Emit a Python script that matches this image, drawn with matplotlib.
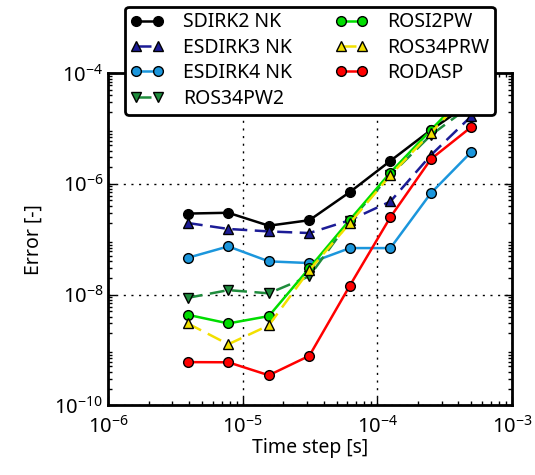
import matplotlib
matplotlib.use("Agg")
import matplotlib.pyplot as plt
from matplotlib.ticker import LogLocator, NullFormatter

plt.rcParams['font.family'] = ['Noto Sans', 'DejaVu Sans']
plt.rcParams['mathtext.fontset'] = 'cm'

# time steps [s]
dt = [3.90625e-6, 7.8125e-6, 1.5625e-5, 3.125e-5, 6.25e-5, 1.25e-4, 2.5e-4, 5e-4]

# errors per method
sdirk2 = [2.9e-7, 3.0e-7, 1.75e-7, 2.2e-7, 7.1e-7, 2.6e-6, 9.4e-6, 3.0e-5]
esdirk3 = [1.96e-7, 1.53e-7, 1.38e-7, 1.29e-7, 2.2e-7, 4.8e-7, 3.3e-6, 1.68e-5]
esdirk4 = [4.6e-8, 7.4e-8, 3.97e-8, 3.7e-8, 6.9e-8, 6.9e-8, 6.8e-7, 3.8e-6]
ros34pw2 = [8.7e-9, 1.2e-8, 1.05e-8, 2.14e-8, 2.15e-7, 1.44e-6, 7.6e-6, 2.65e-5]
rosi2pw = [4.3e-9, 3.0e-9, 4.07e-9, 3.0e-8, 2.24e-7, 1.6e-6, 9.4e-6, 5.4e-5]
ros34prw = [3.0e-9, 1.26e-9, 2.77e-9, 2.75e-8, 1.95e-7, 1.44e-6, 8.4e-6, 5.0e-5]
rodasp = [6.0e-10, 5.96e-10, 3.47e-10, 7.8e-10, 1.45e-8, 2.5e-7, 2.8e-6, 1.07e-5]

fig = plt.figure(figsize=(5.35, 4.75), dpi=100)
ax = fig.add_axes([0.202, 0.147, 0.755, 0.699])

lw = 1.8
ms = 7
ax.plot(dt, sdirk2, '-o', color='black', lw=lw, ms=ms, mec='black', label='SDIRK2 NK')
ax.plot(dt, esdirk3, '--^', color='#1c1c96', lw=lw, ms=ms, mec='black', dashes=(6, 3), label='ESDIRK3 NK')
ax.plot(dt, esdirk4, '-o', color='#1b96dc', lw=lw, ms=ms, mec='black', label='ESDIRK4 NK')
ax.plot(dt, ros34pw2, '--v', color='#1e8c3c', lw=lw, ms=ms, mec='black', dashes=(6, 3), label='ROS34PW2')
ax.plot(dt, rosi2pw, '-o', color='#00dd00', lw=lw, ms=ms, mec='black', label='ROSI2PW')
ax.plot(dt, ros34prw, '--^', color='#f2e000', lw=lw, ms=ms, mec='black', dashes=(6, 3), label='ROS34PRW')
ax.plot(dt, rodasp, '-o', color='#ff0000', lw=lw, ms=ms, mec='black', label='RODASP')

ax.set_xscale('log')
ax.set_yscale('log')
ax.set_xlim(1e-6, 1e-3)
ax.set_ylim(1e-10, 1e-4)
ax.set_yticks([1e-10, 1e-8, 1e-6, 1e-4])
ax.set_xticks([1e-6, 1e-5, 1e-4, 1e-3])
ax.xaxis.set_minor_locator(LogLocator(base=10, subs=range(2, 10), numticks=20))
ax.yaxis.set_minor_locator(LogLocator(base=10, subs=range(2, 10), numticks=20))
ax.xaxis.set_minor_formatter(NullFormatter())
ax.yaxis.set_minor_formatter(NullFormatter())

ax.tick_params(which='both', direction='in', top=True, right=True, labelsize=14.5)
ax.tick_params(which='major', length=6, width=1)
ax.tick_params(which='minor', length=3, width=1)
ax.tick_params(axis='x', pad=8)
for s in ax.spines.values():
    s.set_linewidth(2)

ax.grid(True, which='major', color='black', linestyle=(0, (1.5, 4)), linewidth=1)

ax.set_xlabel('Time step [s]', fontsize=14, labelpad=0)
ax.set_ylabel('Error [-]', fontsize=14, labelpad=8)

leg = ax.legend(loc='upper center', bbox_to_anchor=(0.5, 1.23), ncol=2, numpoints=2,
                fontsize=14, handlelength=1.7, handletextpad=1.0, columnspacing=2.2,
                labelspacing=0.28, borderpad=0.3, fancybox=True, framealpha=1)
leg.get_frame().set_edgecolor('black')
leg.get_frame().set_linewidth(2)
leg.set_zorder(10)

fig.savefig('out.png', dpi=100)
